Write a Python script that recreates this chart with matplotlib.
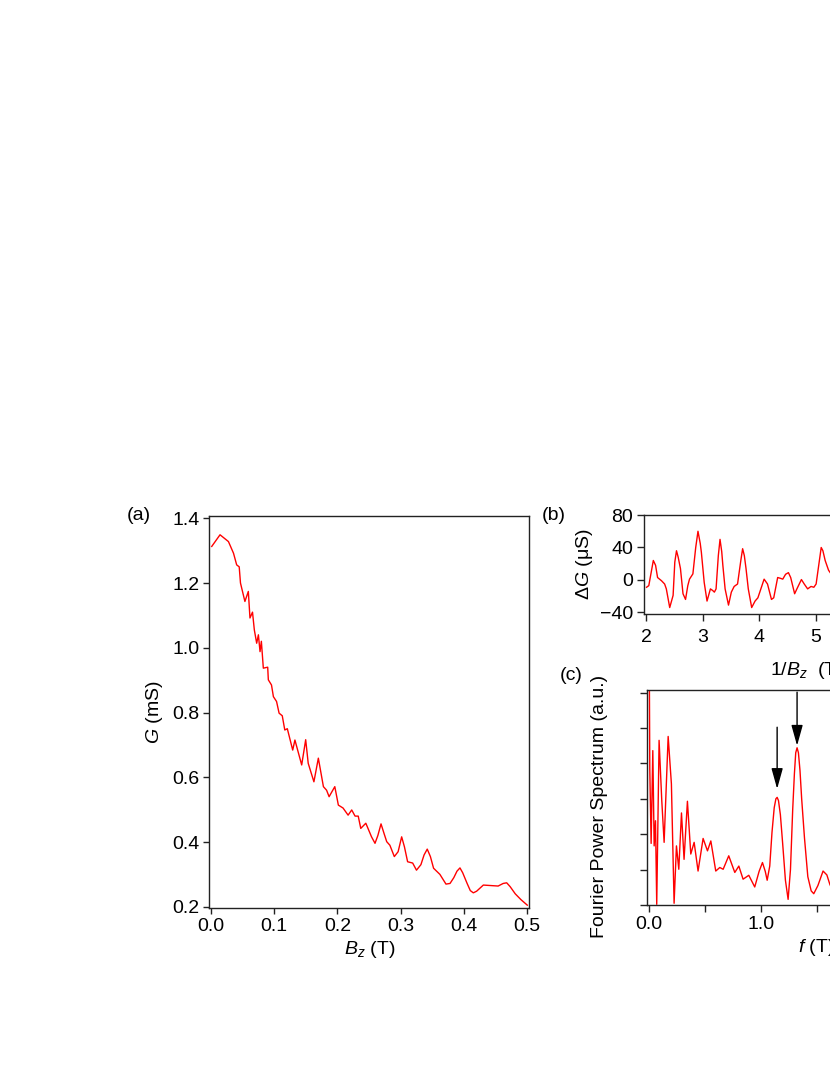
import matplotlib
matplotlib.use("Agg")
import matplotlib.pyplot as plt
from matplotlib.ticker import MultipleLocator, FormatStrFormatter, NullFormatter

plt.rcParams["font.family"] = ["Liberation Sans", "DejaVu Sans"]
plt.rcParams["mathtext.fontset"] = "custom"
plt.rcParams["mathtext.rm"] = "Liberation Sans"
plt.rcParams["mathtext.it"] = "Liberation Sans:italic"
plt.rcParams["font.size"] = 14

RED = "#ff0000"

# (a) conductance vs field
bz = [0.0016, 0.0147, 0.028, 0.036, 0.041, 0.045, 0.047, 0.054, 0.0594, 0.062,
      0.066, 0.0689, 0.0726, 0.0753, 0.0779, 0.080, 0.0831, 0.090, 0.091, 0.096,
      0.099, 0.104, 0.108, 0.113, 0.117, 0.121, 0.1255, 0.1295, 0.133, 0.1437,
      0.150, 0.154, 0.163, 0.170, 0.178, 0.183, 0.187, 0.196, 0.2016, 0.209,
      0.217, 0.2227, 0.228, 0.233, 0.237, 0.245, 0.254, 0.2595, 0.264, 0.269,
      0.274, 0.278, 0.283, 0.290, 0.296, 0.3016, 0.306, 0.311, 0.319, 0.325,
      0.332, 0.337, 0.342, 0.347, 0.352, 0.362, 0.3716, 0.378, 0.384, 0.389,
      0.3937, 0.398, 0.405, 0.410, 0.4148, 0.420, 0.4306, 0.454, 0.462, 0.4675,
      0.473, 0.481, 0.490, 0.500]
g = [1.313, 1.349, 1.328, 1.292, 1.256, 1.250, 1.200, 1.143, 1.174, 1.092,
     1.110, 1.055, 1.014, 1.040, 0.988, 1.020, 0.937, 0.940, 0.901, 0.885,
     0.849, 0.834, 0.798, 0.790, 0.746, 0.750, 0.715, 0.684, 0.715, 0.638,
     0.716, 0.643, 0.586, 0.659, 0.571, 0.560, 0.540, 0.571, 0.514, 0.505,
     0.483, 0.499, 0.480, 0.480, 0.442, 0.458, 0.416, 0.396, 0.420, 0.456,
     0.425, 0.401, 0.390, 0.355, 0.370, 0.416, 0.385, 0.339, 0.335, 0.313,
     0.330, 0.360, 0.378, 0.355, 0.319, 0.300, 0.270, 0.272, 0.290, 0.310,
     0.320, 0.305, 0.272, 0.250, 0.243, 0.248, 0.267, 0.264, 0.272, 0.274,
     0.262, 0.240, 0.222, 0.205]

# (b) oscillating part vs inverse field
inv_b = [2.01, 2.05, 2.13, 2.17, 2.205, 2.275, 2.33, 2.36, 2.42, 2.48,
         2.51, 2.54, 2.57, 2.61, 2.655, 2.70, 2.74, 2.77, 2.83, 2.88,
         2.92, 2.96, 2.98, 3.03, 3.08, 3.14, 3.18, 3.21, 3.24, 3.28,
         3.31, 3.34, 3.36, 3.40, 3.46, 3.51, 3.56, 3.62, 3.68, 3.71,
         3.74, 3.77, 3.81, 3.87, 3.93, 3.98, 4.09, 4.15, 4.22, 4.26,
         4.33, 4.38, 4.42, 4.47, 4.52, 4.56, 4.63, 4.67, 4.75, 4.80,
         4.86, 4.92, 4.97, 5.01, 5.07, 5.10, 5.13, 5.17, 5.23, 5.30]
dg = [-9, -7, 24, 18, 3, -1, -5, -11, -34, -19,
      22, 36, 28, 14, -17, -24, -7, 1, 7.5, 40,
      60, 45, 34, -3, -26, -11, -13, -15, -11, 30,
      50, 35, 18, -11, -31, -15, -8, -5, 25, 38.5,
      30, 14, -11, -34, -26, -22, 1, -5, -24, -22,
      3, 2, 1, 7, 9, 3, -17, -11, 0.5, -5,
      -11, -8, -9, -5, 25, 40, 36, 24, 12, 5]

# (c) Fourier power spectrum
freq = [0.003, 0.009, 0.021, 0.036, 0.048, 0.060, 0.071, 0.092, 0.116, 0.137,
        0.173, 0.202, 0.226, 0.247, 0.268, 0.292, 0.315, 0.345, 0.375, 0.405,
        0.440, 0.485, 0.524, 0.554, 0.598, 0.634, 0.664, 0.714, 0.768, 0.804,
        0.842, 0.893, 0.946, 0.985, 1.015, 1.040, 1.057, 1.080, 1.100, 1.120,
        1.135, 1.146, 1.158, 1.175, 1.195, 1.220, 1.244, 1.265, 1.285, 1.300,
        1.312, 1.324, 1.336, 1.350, 1.365, 1.390, 1.420, 1.450, 1.473, 1.510,
        1.556, 1.590, 1.616, 1.650]
power = [8.0, 3.84, 1.74, 4.36, 1.67, 2.38, 0.02, 4.65, 2.95, 1.77,
         4.76, 3.42, 0.05, 1.67, 1.01, 2.60, 1.29, 2.93, 1.44, 1.77,
         0.96, 1.88, 1.53, 1.81, 0.96, 1.06, 1.01, 1.39, 0.92, 1.10,
         0.73, 0.84, 0.51, 0.95, 1.20, 0.95, 0.70, 1.10, 2.05, 2.75,
         3.00, 3.04, 2.95, 2.55, 1.75, 0.70, 0.16, 1.00, 2.70, 3.70,
         4.30, 4.44, 4.30, 3.80, 3.00, 1.90, 0.80, 0.40, 0.32, 0.55,
         0.96, 0.85, 0.59, 0.35]

peak_f = [1.146, 1.324]
arrow_top = [5.02, 6.01]
arrow_tip = [3.28, 4.50]

fig = plt.figure(figsize=(8.3, 10.75))


def style_axes(ax, ticklen):
    for sp in ax.spines.values():
        sp.set_linewidth(1.0)
        sp.set_color("#222222")
    ax.tick_params(direction="out", length=ticklen, width=1.0, color="#222222",
                   top=False, right=False, pad=3)
    ax.tick_params(which="minor", direction="out", length=ticklen, width=1.0,
                   color="#222222")


# (a)
ax_a = fig.add_axes([0.2522, 0.1553, 0.3855, 0.3647])
ax_a.plot(bz, g, color=RED, lw=1.0)
ax_a.set_xlim(-0.0022, 0.5032)
ax_a.set_ylim(0.196, 1.407)
ax_a.xaxis.set_major_locator(MultipleLocator(0.1))
ax_a.yaxis.set_major_locator(MultipleLocator(0.2))
ax_a.xaxis.set_major_formatter(FormatStrFormatter("%.1f"))
ax_a.yaxis.set_major_formatter(FormatStrFormatter("%.1f"))
style_axes(ax_a, 4)
ax_a.set_xlabel(r"$B_z$ (T)", labelpad=3)
ax_a.set_ylabel(r"$G$ (mS)", labelpad=5)
fig.text(127 / 830, 1 - 515 / 1075, "(a)", va="center", ha="left")

# (b)
ax_b = fig.add_axes([0.7759, 0.4288, 0.411, 0.0921])
ax_b.plot(inv_b, dg, color=RED, lw=1.0)
ax_b.set_xlim(1.965, 8.0)
ax_b.set_ylim(-42, 80)
ax_b.xaxis.set_major_locator(MultipleLocator(1))
ax_b.set_yticks([-40, 0, 40, 80])
style_axes(ax_b, 5)
ax_b.tick_params(axis="x", pad=6)
ax_b.set_xlabel(r"1/$B_z$  (T$^{-1}$)", labelpad=7)
ax_b.set_ylabel(r"$\mathit{ΔG}$ (μS)", labelpad=3)
fig.text(542 / 830, 1 - 515 / 1075, "(b)", va="center", ha="left")

# (c)
ax_c = fig.add_axes([0.7795, 0.1581, 0.407, 0.2])
ax_c.plot(freq, power, color=RED, lw=1.0)
ax_c.set_xlim(-0.016, 3.0)
ax_c.set_ylim(0, 6.07)
ax_c.xaxis.set_major_locator(MultipleLocator(1.0))
ax_c.xaxis.set_minor_locator(MultipleLocator(0.5))
ax_c.xaxis.set_major_formatter(FormatStrFormatter("%.1f"))
ax_c.yaxis.set_major_locator(MultipleLocator(1))
ax_c.yaxis.set_major_formatter(NullFormatter())
style_axes(ax_c, 5)
ax_c.set_xlabel(r"$f$ (T)", labelpad=3)
ax_c.set_ylabel("Fourier Power Spectrum (a.u.)")
ax_c.yaxis.set_label_coords(-0.115, 0.46)
for fx, y0, y1 in zip(peak_f, arrow_top, arrow_tip):
    ax_c.annotate("", xy=(fx, y1), xytext=(fx, y0),
                  arrowprops=dict(arrowstyle="-|>,head_length=0.9,head_width=0.25",
                                  color="black", lw=1.0, shrinkA=0, shrinkB=0))
fig.text(560 / 830, 1 - 676 / 1075, "(c)", va="center", ha="left")

fig.savefig("out.png", dpi=100)
